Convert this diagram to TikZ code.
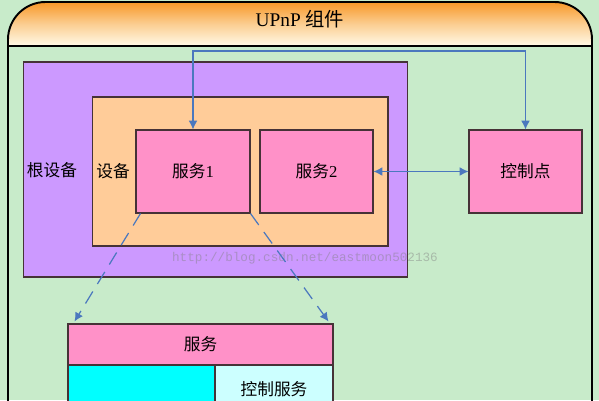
\documentclass[tikz,border=0pt]{standalone}
\usepackage{fontspec}
\setmainfont{Liberation Serif}
\newfontfamily\cjk{Noto Sans CJK SC}
\newfontfamily\wmfont{Liberation Mono}
\usetikzlibrary{arrows.meta}

\definecolor{bggreen}{RGB}{200,235,202}
\definecolor{hdtop}{RGB}{247,152,40}
\definecolor{hdbot}{RGB}{255,250,232}
\definecolor{rootpurple}{RGB}{204,153,255}
\definecolor{devorange}{RGB}{255,204,153}
\definecolor{svcpink}{RGB}{255,145,200}
\definecolor{cyanbox}{RGB}{0,255,255}
\definecolor{ltcyan}{RGB}{204,255,255}
\definecolor{boxline}{RGB}{70,50,55}
\definecolor{linkblue}{RGB}{75,120,190}

\begin{document}
\begin{tikzpicture}
            [x=0.02cm, y=-0.02cm, >={Latex[length=5pt,width=5pt]},
             box/.style={draw=boxline, line width=0.6pt, inner sep=0pt, font=\fontsize{9.5}{11}\selectfont},
             link/.style={draw=linkblue, line width=0.7pt},
             lbl/.style={inner sep=0pt, font=\fontsize{9.5}{11}\selectfont\cjk}]
            \clip (0,0) rectangle (599,400);
            \fill[bggreen] (0,0) rectangle (599,400);

            % frame with header
            \begin{scope}
                \clip[rounded corners=0.75cm] (8,120) -- (8,2) -- (592,2) -- (592,120) -- cycle;
                \shade[top color=hdtop, bottom color=hdbot, middle color=hdtop!45!hdbot] (8,2) rectangle (592,46);
            \end{scope}
            \draw[line width=1.1pt, rounded corners=0.75cm] (8,440) -- (8,2) -- (592,2) -- (592,440);
            \draw[line width=1.1pt] (8,46) -- (592,46);
            \node[inner sep=0pt, font=\fontsize{11}{13}\selectfont] (title) at (300,19) {UPnP {\cjk 组件}};

            % devices and services
            \node[box, fill=rootpurple, minimum width=7.7cm, minimum height=4.3cm] (root) at (215.5,169.5) {};
            \node[lbl] (rootlbl) at (52,170) {根设备};
            \node[box, fill=devorange, minimum width=5.92cm, minimum height=2.98cm] (dev) at (240,171.5) {};
            \node[lbl] (devlbl) at (113,171) {设备};
            \node[box, fill=svcpink, minimum width=2.28cm, minimum height=1.66cm] (svc1) at (193,171.5) {{\cjk 服务}1};
            \node[box, fill=svcpink, minimum width=2.26cm, minimum height=1.66cm] (svc2) at (316.5,171.5) {{\cjk 服务}2};
            \node[box, fill=svcpink, minimum width=2.26cm, minimum height=1.66cm] (cp) at (525.5,171.5) {\cjk 控制点};

            \node[inner sep=0pt, text=gray, text opacity=0.45, font=\fontsize{7.2}{9}\selectfont\wmfont] (wm) at (305,258) {http://blog.csdn.net/eastmoon502136};

            % service detail
            \node[box, fill=svcpink, minimum width=5.3cm, minimum height=0.82cm] (svc) at (200.5,344.5) {\cjk 服务};
            \node[box, fill=cyanbox, minimum width=2.94cm, minimum height=1.2cm] (state) at (141.5,395) {};
            \node[box, fill=ltcyan, minimum width=2.36cm, minimum height=1.2cm] (ctl) at (274,395) {};
            \node[lbl] (ctllbl) at (274,389) {控制服务};

            % connectors
            \coordinate (bus) at (359,51);
            \path[link, <->] (svc1.north) |- (bus) -| (cp.north);
            \path[link, <->] (svc2.east) -- (cp.west);
            \path[link, ->, dash pattern=on 8pt off 5pt] ([xshift=5*0.02cm]svc1.south west) -- ([xshift=7*0.02cm, yshift=2*0.02cm]svc.north west);
            \path[link, ->, dash pattern=on 8pt off 5pt] (svc1.south east) -- ([xshift=-5*0.02cm, yshift=2*0.02cm]svc.north east);
        \end{tikzpicture}
\end{document}
